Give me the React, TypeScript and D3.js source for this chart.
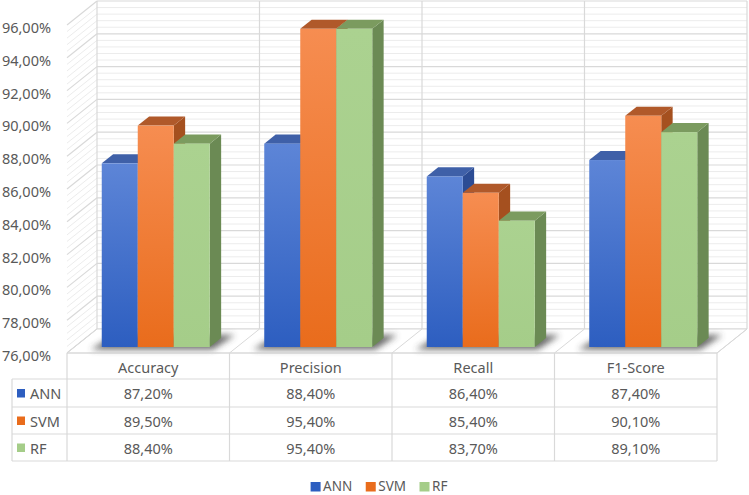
import React from "react";
import * as d3 from "d3";

const categories = ["Accuracy", "Precision", "Recall", "F1-Score"];
const seriesNames = ["ANN", "SVM", "RF"];
const annValues = [87.2, 88.4, 86.4, 87.4];
const svmValues = [89.5, 95.4, 85.4, 90.1];
const rfValues = [88.4, 95.4, 83.7, 89.1];
const yTicks = [76, 78, 80, 82, 84, 86, 88, 90, 92, 94, 96];

const seriesValues = [annValues, svmValues, rfValues];

const palette = [
  { top: "#3f60a8", side: "#2c4c94", g0: "#5d85d7", g1: "#2d5ec0" },
  { top: "#b0592a", side: "#a5501f", g0: "#f68d51", g1: "#e96c1c" },
  { top: "#7b9b5f", side: "#6b8a54", g0: "#abd290", g1: "#a5cd89" },
];

const W = 749;
const H = 495;
const FONT = "'Noto Sans', 'Open Sans', sans-serif";
const TXT = "#595959";
const GRID = "#d9d9d9";
const MINOR = "#ececec";

const DX = 30; // depth offset x (front -> back)
const DY = -24; // depth offset y
const D0 = 0.25; // bar front depth
const D1 = 0.63; // bar back depth
const FS = 14.5;

const fmt = (v: number) => v.toFixed(2).replace(".", ",") + "%";

function measure(text: string, size: number) {
  if (typeof document === "undefined") return text.length * size * 0.6;
  const c = document.createElement("canvas").getContext("2d");
  if (!c) return text.length * size * 0.6;
  c.font = `${size}px 'Noto Sans'`;
  return c.measureText(text).width;
}

export default function App() {
  const y = d3.scaleLinear().domain([76, 96]).range([353, 25]);
  const x = d3.scaleBand<string>().domain(categories).range([67, 717]).paddingInner(0).paddingOuter(0);
  const bw = x.bandwidth();
  const inner = d3
    .scaleBand<string>()
    .domain(seriesNames)
    .range([(bw - 108) / 2, (bw + 108) / 2])
    .padding(0);

  const P = (px: number, v: number, d: number): [number, number] => [px + DX * d, y(v) + DY * d];
  const poly = (pts: [number, number][]) => pts.map((p) => p.join(",")).join(" ");

  const minorTicks = d3.range(76, 96.001, 0.4).filter((t) => Math.abs(t / 2 - Math.round(t / 2)) > 0.01);

  const xFront0 = 67;
  const xFront1 = 717;
  const boundaries = [...categories.map((c) => x(c) as number), xFront1];

  // table geometry
  const rowTops = [353, 379, 407, 434, 461];
  const tableLeft = 12;

  // bottom legend layout
  const legSize = 13.5;
  const itemWidths = seriesNames.map((s) => 10 + 2.5 + measure(s, legSize));
  const gap = 13.5;
  const totalLeg = d3.sum(itemWidths) + gap * (seriesNames.length - 1);
  let lx = 379 - totalLeg / 2;
  const legendPos = itemWidths.map((w) => {
    const p = lx;
    lx += w + gap;
    return p;
  });

  return (
    <svg
      width={W}
      height={H}
      style={{ position: "absolute", left: 0, top: 0, background: "#fff" }}
      fontFamily={FONT}
    >
      <defs>
        {palette.map((c, i) => (
          <linearGradient key={i} id={`g${i}`} x1="0" y1="0" x2="0" y2="1">
            <stop offset="0" stopColor={c.g0} />
            <stop offset="1" stopColor={c.g1} />
          </linearGradient>
        ))}
        <filter id="blur" x="-20%" y="-50%" width="140%" height="200%">
          <feGaussianBlur stdDeviation="3" />
        </filter>
      </defs>

      {/* back wall minor grid */}
      {minorTicks.map((t, i) => {
        const [x0, y0] = P(xFront0, t, 1);
        const [x1] = P(xFront1, t, 1);
        return <line key={"bm" + i} x1={x0} x2={x1} y1={y0} y2={y0} stroke={MINOR} strokeWidth={1} />;
      })}
      {/* side wall minor grid */}
      {minorTicks.map((t, i) => {
        const [x0, y0] = P(xFront0, t, 0);
        const [x1, y1] = P(xFront0, t, 1);
        return <line key={"sm" + i} x1={x0} x2={x1} y1={y0} y2={y1} stroke={MINOR} strokeWidth={1} />;
      })}
      {/* major grid back */}
      {yTicks.map((t) => {
        const [x0, y0] = P(xFront0, t, 1);
        const [x1] = P(xFront1, t, 1);
        return <line key={"bM" + t} x1={x0} x2={x1} y1={y0} y2={y0} stroke={GRID} strokeWidth={1.2} />;
      })}
      {yTicks.map((t) => {
        const [x0, y0] = P(xFront0, t, 0);
        const [x1, y1] = P(xFront0, t, 1);
        return <line key={"sM" + t} x1={x0} x2={x1} y1={y0} y2={y1} stroke={GRID} strokeWidth={1.2} />;
      })}
      {/* back wall verticals */}
      {boundaries.map((b, i) => {
        const [x0, y0] = P(b, 96, 1);
        const [, y1] = P(b, 76, 1);
        return <line key={"bv" + i} x1={x0} x2={x0} y1={y0} y2={y1} stroke={GRID} strokeWidth={1.2} />;
      })}
      {/* floor */}
      <polygon
        points={poly([P(xFront0, 76, 0), P(xFront1, 76, 0), P(xFront1, 76, 1), P(xFront0, 76, 1)])}
        fill="#fff"
        stroke={GRID}
        strokeWidth={1}
      />
      {boundaries.map((b, i) => {
        const [x0, y0] = P(b, 76, 0);
        const [x1, y1] = P(b, 76, 1);
        return <line key={"fl" + i} x1={x0} x2={x1} y1={y0} y2={y1} stroke={GRID} strokeWidth={1} />;
      })}

      {/* shadows */}
      {categories.map((c) => {
        const gx0 = (x(c) as number) + inner.range()[0];
        const gx1 = (x(c) as number) + inner.range()[1];
        return (
          <polygon
            key={"sh" + c}
            points={poly([
              P(gx0 - 8, 76, D0 - 0.1),
              P(gx1 + 6, 76, D0 - 0.1),
              P(gx1 + 10, 76, D1 + 0.12),
              P(gx0 - 2, 76, D1 + 0.12),
            ])}
            fill="#3a3a3a"
            opacity={0.75}
            filter="url(#blur)"
          />
        );
      })}

      {/* bars */}
      {categories.map((c, ci) =>
        seriesNames.map((s, si) => {
          const v = seriesValues[si][ci];
          const bx0 = (x(c) as number) + (inner(s) as number);
          const bx1 = bx0 + inner.bandwidth();
          const col = palette[si];
          const [fx, fy] = P(bx0, v, D0);
          const [, fb] = P(bx0, 76, D0);
          return (
            <g key={c + s}>
              <polygon
                points={poly([P(bx1, 76, D0), P(bx1, v, D0), P(bx1, v, D1), P(bx1, 76, D1)])}
                fill={col.side}
              />
              <polygon
                points={poly([P(bx0, v, D0), P(bx1, v, D0), P(bx1, v, D1), P(bx0, v, D1)])}
                fill={col.top}
              />
              <rect x={fx} y={fy} width={bx1 - bx0} height={fb - fy} fill={`url(#g${si})`} />
            </g>
          );
        })
      )}

      {/* y labels */}
      {yTicks.map((t) => (
        <text
          key={"yl" + t}
          x={51}
          y={y(t) + 2}
          textAnchor="end"
          dominantBaseline="central"
          fontSize={FS}
          fill={TXT}
        >
          {fmt(t)}
        </text>
      ))}

      {/* table */}
      <g stroke={GRID} strokeWidth={1.2}>
        {rowTops.map((ry, i) => (
          <line key={"tr" + i} x1={i === 0 ? xFront0 : tableLeft} x2={xFront1} y1={ry} y2={ry} />
        ))}
        <line x1={tableLeft} x2={tableLeft} y1={rowTops[1]} y2={rowTops[4]} />
        {boundaries.map((b, i) => (
          <line key={"tv" + i} x1={b} x2={b} y1={rowTops[0]} y2={rowTops[4]} />
        ))}
      </g>
      {categories.map((c) => (
        <text
          key={"th" + c}
          x={(x(c) as number) + bw / 2}
          y={(rowTops[0] + rowTops[1]) / 2 + 1}
          textAnchor="middle"
          dominantBaseline="central"
          fontSize={FS}
          fill={TXT}
        >
          {c}
        </text>
      ))}
      {seriesNames.map((s, si) => {
        const cy = (rowTops[si + 1] + rowTops[si + 2]) / 2;
        return (
          <g key={"row" + s}>
            <rect x={17} y={cy - 4} width={8} height={8.5} fill={palette[si].g1} />
            <text x={30} y={cy} dominantBaseline="central" fontSize={FS} fill={TXT}>
              {s}
            </text>
            {categories.map((c, ci) => (
              <text
                key={"td" + s + c}
                x={(x(c) as number) + bw / 2}
                y={cy}
                textAnchor="middle"
                dominantBaseline="central"
                fontSize={FS}
                fill={TXT}
              >
                {fmt(seriesValues[si][ci])}
              </text>
            ))}
          </g>
        );
      })}

      {/* bottom legend */}
      {seriesNames.map((s, si) => (
        <g key={"lg" + s}>
          <rect x={legendPos[si]} y={482} width={10} height={9.5} fill={palette[si].g1} />
          <text x={legendPos[si] + 12.5} y={491} fontSize={legSize} fill={TXT}>
            {s}
          </text>
        </g>
      ))}
    </svg>
  );
}
